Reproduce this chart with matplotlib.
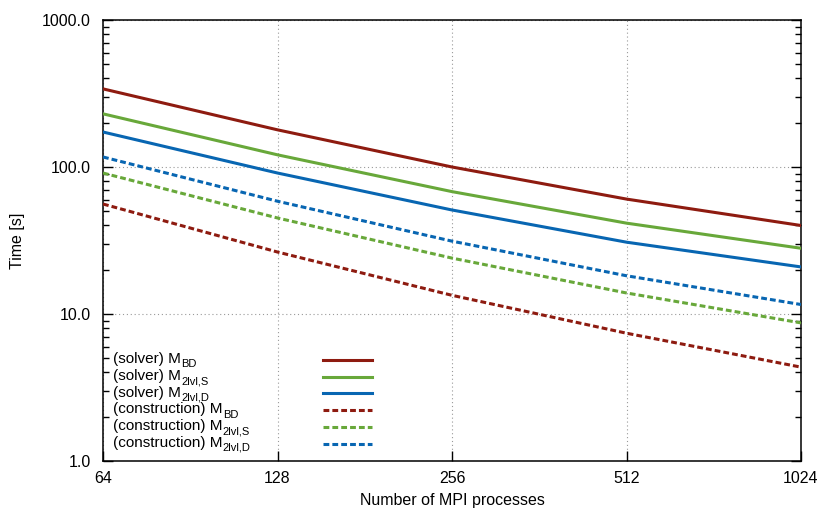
import numpy as np
import matplotlib
matplotlib.use("Agg")
import matplotlib.pyplot as plt
from matplotlib.patches import Rectangle
from matplotlib.ticker import FixedLocator, FixedFormatter, LogLocator, NullFormatter

plt.rcParams['font.family'] = ['Liberation Sans', 'DejaVu Sans']

# Dati
procs = [64, 128, 256, 512, 1024]
solver_bd = [340, 179, 100, 60.5, 40]
solver_s = [230, 121, 68, 41.5, 28]
solver_d = [173, 91, 51, 30.8, 20.9]
constr_bd = [56, 26.4, 13.4, 7.4, 4.35]
constr_s = [91, 45, 24, 13.9, 8.7]
constr_d = [117, 58.5, 31.3, 18.2, 11.6]

labels = ['(solver) M', '(solver) M', '(solver) M',
          '(construction) M', '(construction) M', '(construction) M']
subs = ['BD', '2lvl,S', '2lvl,D', 'BD', '2lvl,S', '2lvl,D']

red = '#8e1b10'
green = '#68a83a'
blue = '#0866b2'
series = [(solver_bd, red, '-'), (solver_s, green, '-'), (solver_d, blue, '-'),
          (constr_bd, red, '--'), (constr_s, green, '--'), (constr_d, blue, '--')]

fig = plt.figure(figsize=(8.3, 5.15), dpi=100)
ax = fig.add_axes([103 / 830, 1 - 461 / 515, 698 / 830, 441 / 515])

for vals, col, ls in series:
    line, = ax.plot(procs, vals, color=col, lw=2.2, zorder=3)
    if ls == '--':
        line.set_dashes((1.9, 1.0))

ax.set_xscale('log', base=2)
ax.set_yscale('log')
ax.set_xlim(64, 1024)
ax.set_ylim(1, 1000)

ax.xaxis.set_major_locator(FixedLocator(procs))
ax.xaxis.set_major_formatter(FixedFormatter([str(p) for p in procs]))
ax.xaxis.set_minor_locator(FixedLocator([]))
ax.yaxis.set_major_locator(FixedLocator([1, 10, 100, 1000]))
ax.yaxis.set_major_formatter(FixedFormatter(['1.0', '10.0', '100.0', '1000.0']))
ax.yaxis.set_minor_locator(LogLocator(base=10, subs=np.arange(2, 10)))
ax.yaxis.set_minor_formatter(NullFormatter())

ax.tick_params(axis='both', which='both', direction='in', labelsize=11.5, width=1.0)
ax.tick_params(axis='y', which='both', right=True)
ax.tick_params(which='major', length=7, pad=9)
ax.tick_params(which='minor', length=4)
ax.tick_params(axis='x', pad=7)
for s in ax.spines.values():
    s.set_linewidth(1.1)

ax.grid(True, which='major', color='#999999', lw=0.8, linestyle=(0, (1, 2.5)), zorder=0)

ax.set_xlabel('Number of MPI processes', fontsize=11.5, labelpad=5)
ax.set_ylabel('Time [s]', fontsize=11.5, labelpad=12)

# Legenda disegnata a mano (testo a sinistra, linea a destra)
ax.add_patch(Rectangle((0.005, 0.01), 0.4, 0.242, transform=ax.transAxes,
                       facecolor='white', edgecolor='none', zorder=1.5))
y0 = 0.229
dy = 0.0379
for i, (lab, sub, (vals, col, ls)) in enumerate(zip(labels, subs, series)):
    y = y0 - i * dy
    t = ax.text(0.0143, y - 0.0075, lab, transform=ax.transAxes, fontsize=11,
                va='baseline', ha='left', zorder=4)
    ax.annotate(sub, xy=(1, 0), xycoords=t, xytext=(0.3, -0.8),
                textcoords='offset points', fontsize=8, va='baseline',
                ha='left', zorder=4)
    ln, = ax.plot([0.315, 0.385], [y, y], transform=ax.transAxes, color=col,
                  lw=2.2, zorder=4)
    if ls == '--':
        ln.set_dashes((1.9, 1.0))

plt.savefig('out.png', dpi=100)
